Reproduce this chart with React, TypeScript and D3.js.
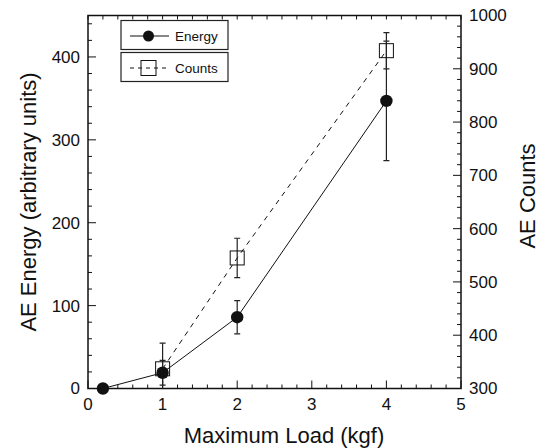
import * as d3 from "d3";

// maximum load (kgf)
const loads = [0.2, 1, 2, 4];
// AE energy (arbitrary units) with error
const energy = [0, 19, 86, 347];
const energyErr = [0, 15, 20, 72];
// AE counts, only measured from 1 kgf
const countLoads = [1, 2, 4];
const counts = [337, 545, 934];
const countsErr = [48, 37, 34];

const xTicks = [0, 1, 2, 3, 4, 5];
const leftTicks = [0, 100, 200, 300, 400];
const rightTicks = [300, 400, 500, 600, 700, 800, 900, 1000];

const W = 541;
const H = 448;
const left = 88;
const right = 461;
const top = 15.5;
const bottom = 388.5;
const font = "'Liberation Sans', Arial, Helvetica, sans-serif";

export default function App() {
  const x = d3.scaleLinear().domain([0, 5]).range([left, right]);
  const yE = d3.scaleLinear().domain([0, 450]).range([bottom, top]);
  const yC = d3.scaleLinear().domain([300, 1000]).range([bottom, top]);

  const xMinor = d3.range(0, 5.001, 0.2);
  const eMinor = d3.range(0, 451, 20);
  const cMinor = d3.range(300, 1001, 20);

  const eLine = d3
    .line<number>()
    .x((_, i) => x(loads[i]))
    .y((d) => yE(d))(energy);
  const cLine = d3
    .line<number>()
    .x((_, i) => x(countLoads[i]))
    .y((d) => yC(d))(counts);

  const cap = 3;

  return (
    <svg width={W} height={H} style={{ position: "absolute", left: 0, top: 0, background: "#fff" }} fontFamily={font}>
      <defs>
        <clipPath id="plot">
          <rect x={left} y={top} width={right - left} height={bottom - top} />
        </clipPath>
      </defs>

      {/* ticks */}
      <g stroke="#111" strokeWidth={1}>
        {xMinor.map((v, i) => {
          const major = Math.abs(v - Math.round(v)) < 1e-6;
          return (
            <g key={"x" + i}>
              <line x1={x(v)} x2={x(v)} y1={bottom} y2={bottom - (major ? 8 : 4)} />
              <line x1={x(v)} x2={x(v)} y1={top} y2={top + 4} />
            </g>
          );
        })}
        {eMinor.map((v) => (
          <line key={"e" + v} x1={left} x2={left + (v % 100 === 0 ? 8 : 4)} y1={yE(v)} y2={yE(v)} />
        ))}
        {cMinor.map((v) => (
          <line key={"c" + v} x1={right} x2={right - (v % 100 === 0 ? 8 : 4)} y1={yC(v)} y2={yC(v)} />
        ))}
      </g>

      {/* frame */}
      <rect x={left} y={top} width={right - left} height={bottom - top} fill="none" stroke="#111" strokeWidth={1.5} />

      {/* tick labels */}
      <g fontSize={17} fill="#111">
        {xTicks.map((v) => (
          <text key={"xl" + v} x={x(v)} y={410} textAnchor="middle">
            {v}
          </text>
        ))}
        {leftTicks.map((v) => (
          <text key={"ll" + v} x={80} y={yE(v)} dy="0.35em" textAnchor="end">
            {v}
          </text>
        ))}
        {rightTicks.map((v) => (
          <text key={"rl" + v} x={469} y={yC(v)} dy="0.35em" textAnchor="start">
            {v}
          </text>
        ))}
      </g>

      {/* axis titles */}
      <g fontSize={22} fill="#111">
        <text x={284} y={443} textAnchor="middle">
          Maximum Load (kgf)
        </text>
        <text transform="translate(36,202) rotate(-90)" textAnchor="middle">
          AE Energy (arbitrary units)
        </text>
        <text transform="translate(535,196) rotate(-90)" textAnchor="middle">
          AE Counts
        </text>
      </g>

      <g clipPath="url(#plot)">
        {/* lines */}
        <path d={cLine ?? ""} fill="none" stroke="#111" strokeWidth={1} strokeDasharray="5,5" />
        <path d={eLine ?? ""} fill="none" stroke="#111" strokeWidth={1} />

        {/* error bars */}
        <g stroke="#222" strokeWidth={1.2}>
          {counts.map((v, i) => {
            const cx = x(countLoads[i]);
            const y1 = yC(v + countsErr[i]);
            const y2 = yC(v - countsErr[i]);
            return (
              <g key={"ce" + i}>
                <line x1={cx} x2={cx} y1={y1} y2={y2} />
                <line x1={cx - cap} x2={cx + cap} y1={y1} y2={y1} />
                <line x1={cx - cap} x2={cx + cap} y1={y2} y2={y2} />
              </g>
            );
          })}
          {energy.map((v, i) => {
            if (!energyErr[i]) return null;
            const cx = x(loads[i]);
            const y1 = yE(v + energyErr[i]);
            const y2 = yE(v - energyErr[i]);
            return (
              <g key={"ee" + i}>
                <line x1={cx} x2={cx} y1={y1} y2={y2} />
                <line x1={cx - cap} x2={cx + cap} y1={y1} y2={y1} />
                <line x1={cx - cap} x2={cx + cap} y1={y2} y2={y2} />
              </g>
            );
          })}
        </g>

        {/* markers */}
        {counts.map((v, i) => (
          <rect
            key={"cm" + i}
            x={x(countLoads[i]) - 7}
            y={yC(v) - 7}
            width={14}
            height={14}
            fill="none"
            stroke="#111"
            strokeWidth={1}
          />
        ))}
      </g>
      {energy.map((v, i) => (
        <circle key={"em" + i} cx={x(loads[i])} cy={yE(v)} r={6.2} fill="#111" />
      ))}

      {/* legend */}
      <g>
        <rect x={121} y={20.5} width={107} height={29} fill="#fff" stroke="#222" strokeWidth={1.2} />
        <line x1={130} x2={169} y1={36} y2={36} stroke="#111" strokeWidth={1} />
        <circle cx={148.5} cy={36} r={5.5} fill="#111" />
        <text x={175} y={36} dy="0.35em" fontSize={13.5} fill="#111">
          Energy
        </text>

        <rect x={121} y={52.5} width={107} height={29} fill="#fff" stroke="#222" strokeWidth={1.2} />
        <line x1={130} x2={169} y1={68} y2={68} stroke="#111" strokeWidth={1} strokeDasharray="4,4" />
        <rect x={141} y={60.5} width={15} height={15} fill="none" stroke="#111" strokeWidth={1} />
        <text x={175} y={68} dy="0.35em" fontSize={13.5} fill="#111">
          Counts
        </text>
      </g>
    </svg>
  );
}
